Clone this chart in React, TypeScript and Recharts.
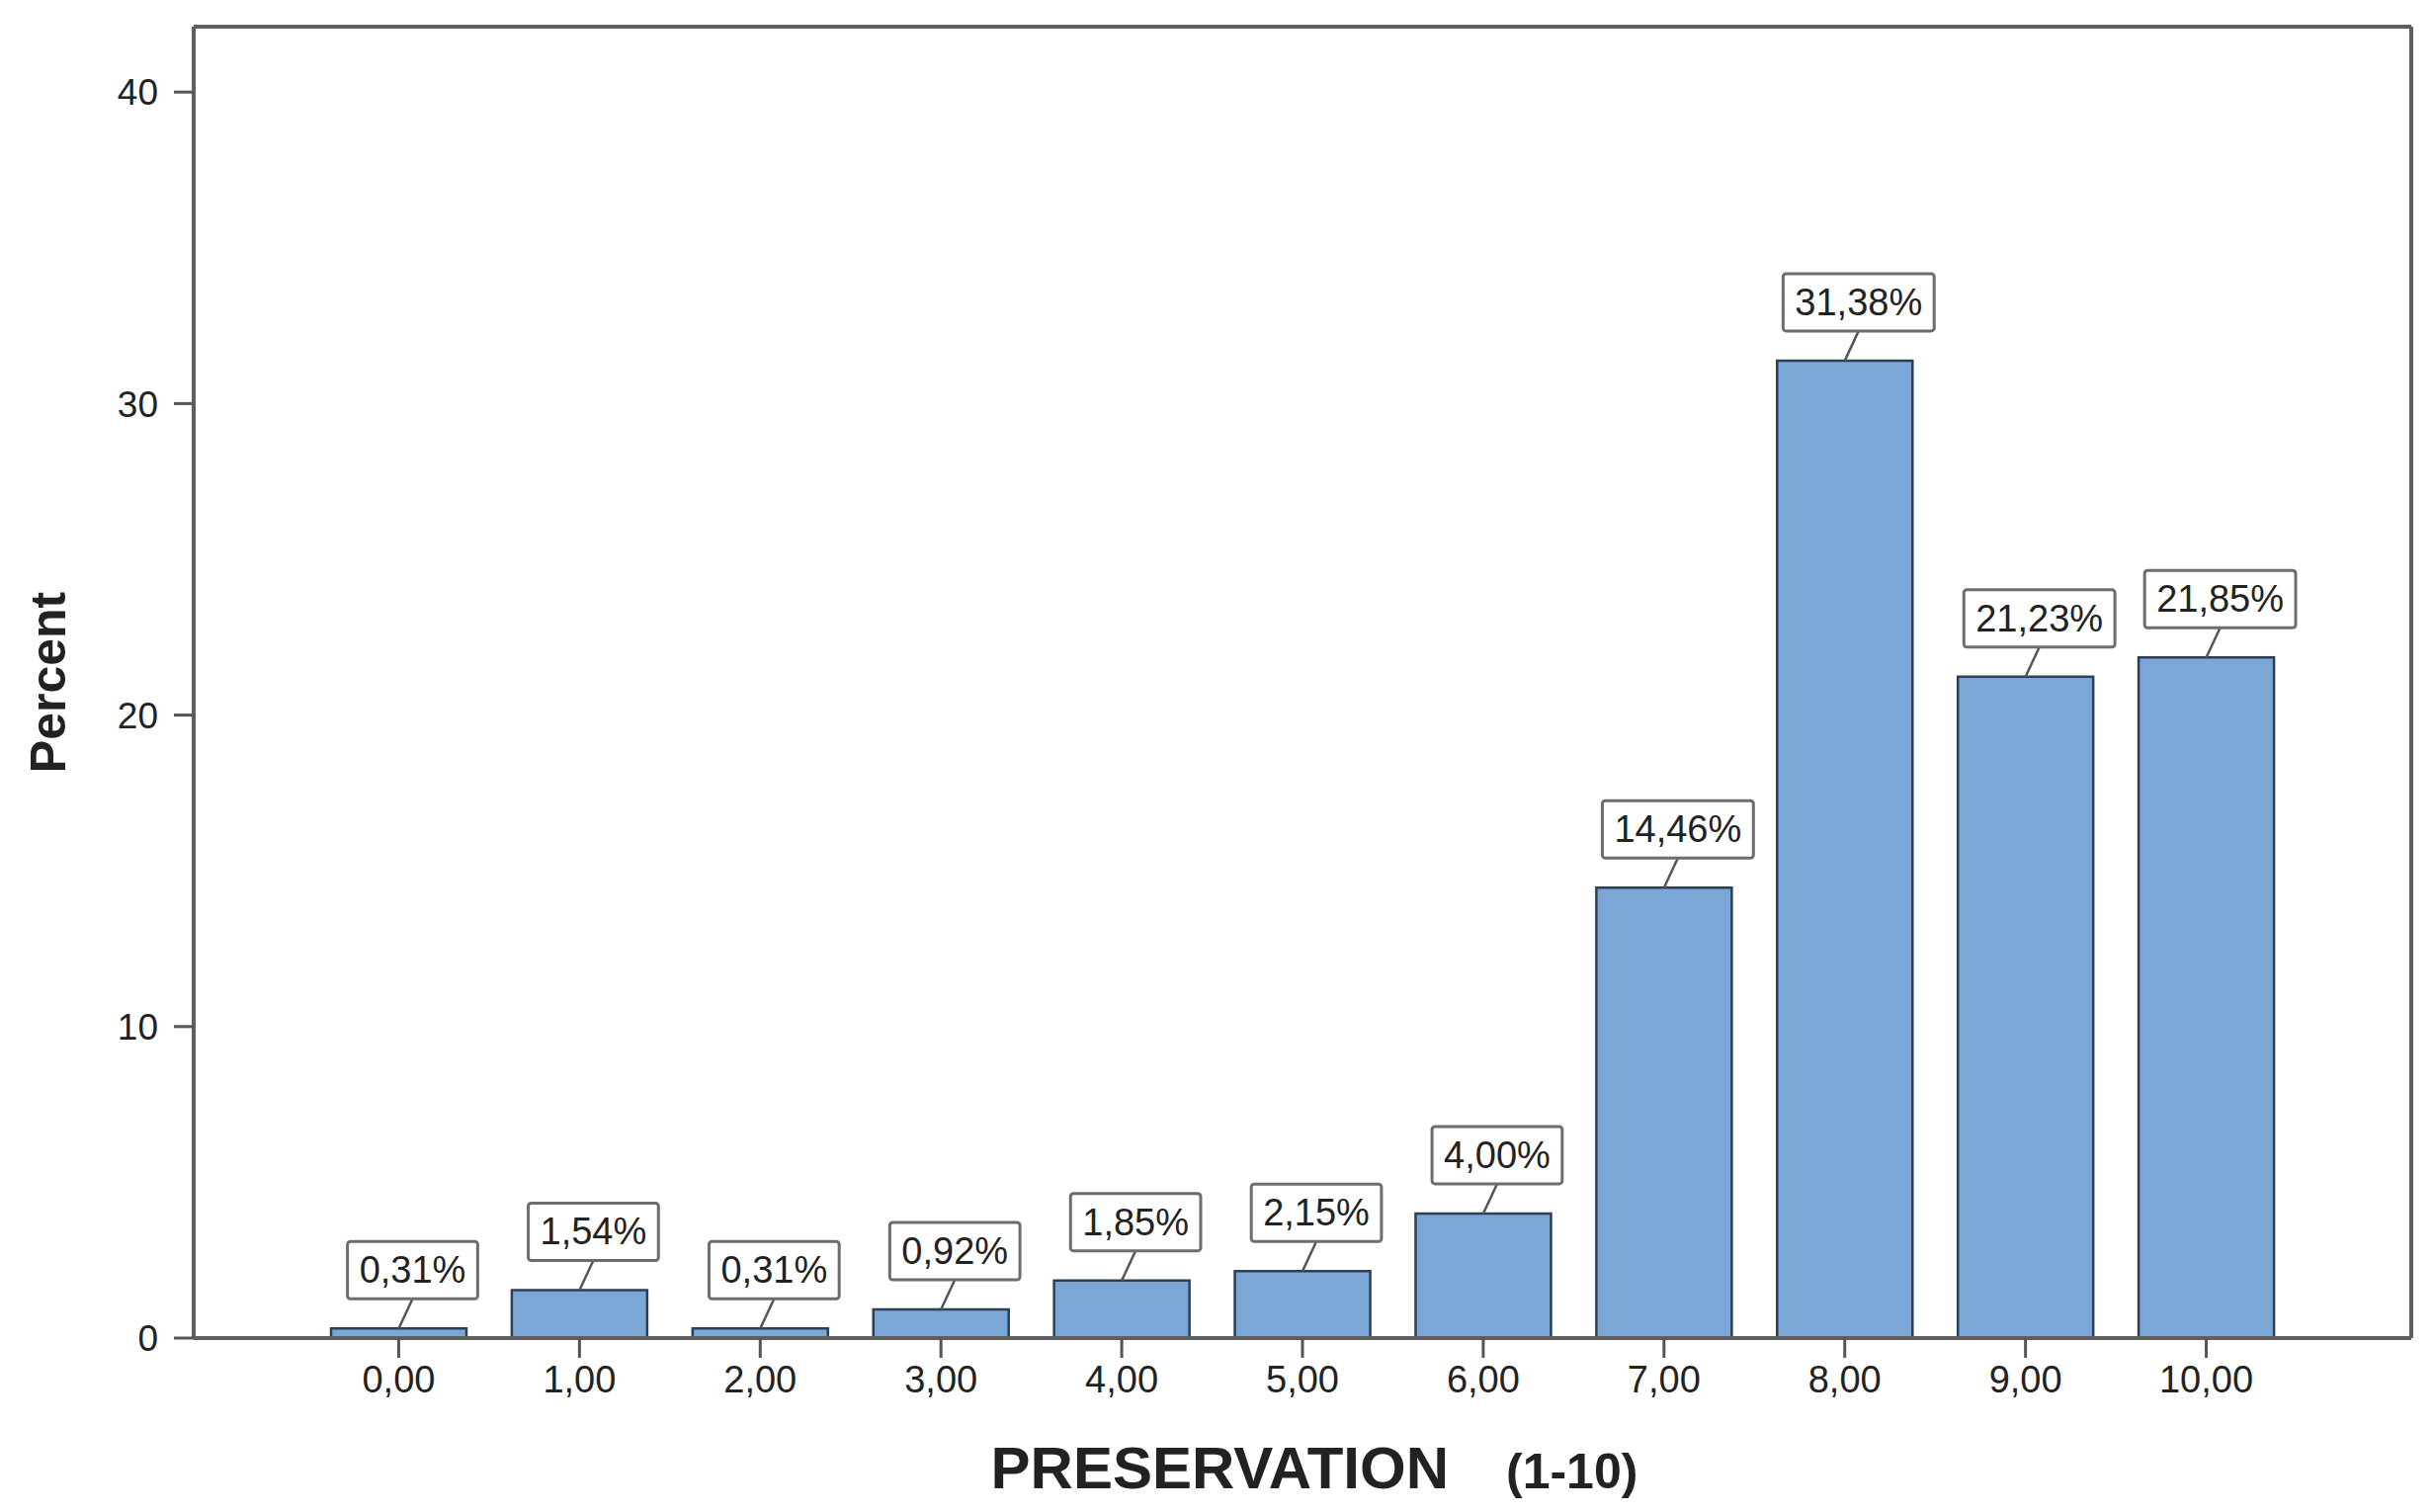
import React from "react"
import {
  BarChart,
  Bar,
  XAxis,
  YAxis,
  LabelList,
  Label,
} from "recharts"

const categories = ["0,00", "1,00", "2,00", "3,00", "4,00", "5,00", "6,00", "7,00", "8,00", "9,00", "10,00"]
const percents = [0.31, 1.54, 0.31, 0.92, 1.85, 2.15, 4.0, 14.46, 31.38, 21.23, 21.85]
const yTicks = [0, 10, 20, 30, 40]

const data = categories.map((c, i) => ({ category: c, percent: percents[i] }))

const FONT = '"Liberation Sans", Arial, sans-serif'
const FRAME = "#5f5f5f"

// rough Arial widths, just to size the label boxes
const charW = (ch: string) => (ch === "," || ch === "." ? 0.278 : ch === "%" ? 0.889 : 0.556)

const BoxLabel = (props: any) => {
  const vb = props.viewBox || {}
  const x = props.x ?? vb.x
  const y = props.y ?? vb.y
  const width = props.width ?? vb.width
  const value = Number(props.value)
  const text = value.toFixed(2).replace(".", ",") + "%"
  const fs = 38
  const tw = text.split("").reduce((s, ch) => s + charW(ch), 0) * fs
  const bw = tw + 24
  const bh = 58
  const barX = x + width / 2
  const cx = barX + 14
  const boxBottom = y - 30
  return (
    <g>
      <line x1={barX} y1={y} x2={cx} y2={boxBottom} stroke="#555" strokeWidth={2.5} />
      <rect
        x={cx - bw / 2}
        y={boxBottom - bh}
        width={bw}
        height={bh}
        rx={3}
        fill="#fff"
        stroke="#6d6d6d"
        strokeWidth={3}
      />
      <text
        x={cx}
        y={boxBottom - bh / 2}
        textAnchor="middle"
        dominantBaseline="central"
        fontFamily={FONT}
        fontSize={fs}
        fill="#222"
      >
        {text}
      </text>
    </g>
  )
}

const XTitle = (props: any) => {
  const vb = props.viewBox || {}
  const cx = vb.x + vb.width / 2 + 12
  return (
    <text x={cx} y={1506} textAnchor="middle" fontFamily={FONT} fontWeight="bold" fill="#222">
      <tspan fontSize={60}>PRESERVATION</tspan>
      <tspan fontSize={50} dx={58}>(1-10)</tspan>
    </text>
  )
}

const YTitle = (props: any) => {
  const vb = props.viewBox || {}
  const cy = vb.y + vb.height / 2
  return (
    <text
      x={49}
      y={cy}
      transform={`rotate(-90, 49, ${cy})`}
      textAnchor="middle"
      dominantBaseline="central"
      fontFamily={FONT}
      fontWeight="bold"
      fontSize={50}
      fill="#222"
    >
      Percent
    </text>
  )
}

const App: React.FC = () => {
  return (
    <div style={{ position: "absolute", left: 0, top: 0, background: "#fff" }}>
      <BarChart
        width={2463}
        height={1530}
        data={data}
        margin={{ top: 26, right: 22, left: 0, bottom: 0 }}
      >
        <XAxis
          dataKey="category"
          height={176}
          padding={{ left: 116, right: 116 }}
          axisLine={{ stroke: FRAME, strokeWidth: 4 }}
          tickLine={{ stroke: "#555", strokeWidth: 3 }}
          tickSize={20}
          tickMargin={8}
          interval={0}
          tick={{ fill: "#222", fontSize: 38, fontFamily: FONT }}
        >
          <Label content={<XTitle />} />
        </XAxis>
        <XAxis
          xAxisId="top"
          dataKey="category"
          orientation="top"
          height={1}
          tick={false}
          tickLine={false}
          axisLine={{ stroke: FRAME, strokeWidth: 4 }}
        />
        <YAxis
          width={196}
          domain={[0, 42.1]}
          ticks={yTicks}
          allowDataOverflow
          axisLine={{ stroke: FRAME, strokeWidth: 4 }}
          tickLine={{ stroke: "#555", strokeWidth: 3 }}
          tickSize={20}
          tickMargin={16}
          tick={{ fill: "#222", fontSize: 37, fontFamily: FONT }}
        >
          <Label content={<YTitle />} />
        </YAxis>
        <YAxis
          yAxisId="right"
          orientation="right"
          width={1}
          tick={false}
          tickLine={false}
          axisLine={{ stroke: FRAME, strokeWidth: 4 }}
        />
        <Bar
          dataKey="percent"
          fill="#7ba7d6"
          stroke="#2b3f57"
          strokeWidth={2.5}
          barSize={137}
          isAnimationActive={false}
        >
          <LabelList dataKey="percent" content={<BoxLabel />} />
        </Bar>
      </BarChart>
    </div>
  )
}

export default App
